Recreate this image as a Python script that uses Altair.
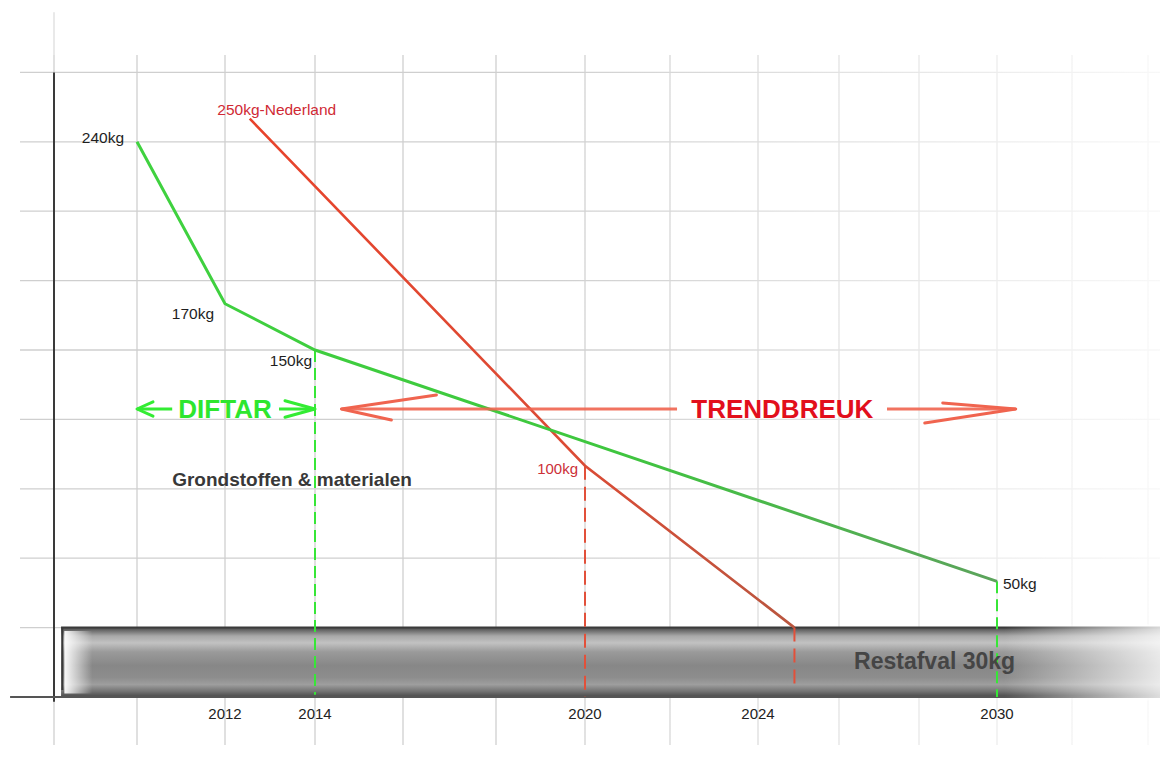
import altair as alt
import pandas as pd

# ---------------- data ----------------
green_years = [2010, 2012, 2014, 2030]
green_kg = [240, 170, 150, 50]

red_years = [2012.55, 2020, 2024.9]
red_kg = [250, 100, 30]
red_name = "Nederland"

restafval_kg = 30
restafval_label = "Restafval 30kg"

axis_years = [2012, 2014, 2020, 2024, 2030]
grid_years = [2008, 2010, 2012, 2014, 2016, 2018, 2020, 2022, 2024, 2026, 2028, 2030, 2032, 2034]
grid_kg = [30, 60, 90, 120, 150, 180, 210, 240, 270]

diftar_label = "DIFTAR"
diftar_years = [2010, 2014]
trend_label = "TRENDBREUK"
trend_years = [2014.6, 2030.5]
arrow_kg = 124.5
material_label = "Grondstoffen & materialen"

# ---------------- scales (the hand-drawn time axis is slightly uneven) ----------------
X_DOM = [2006.89] + grid_years + [2034.32]
X_RANGE = [0, 46, 129, 217, 307, 395, 488, 577, 662, 750, 831, 911, 989, 1064, 1140, 1152]
Y_DOM = [-25.07, 297.84]
W, H = 1152, 747
FONT = "Liberation Sans"

xs = alt.Scale(domain=X_DOM, range=X_RANGE, nice=False, zero=False)
ys = alt.Scale(domain=Y_DOM, nice=False, zero=False)
X_END = X_DOM[-1]


def ex(f="year"):
    return alt.X(f"{f}:Q", scale=xs, axis=None)


def ey(f="kg"):
    return alt.Y(f"{f}:Q", scale=ys, axis=None)


def seg(rows, **mark):
    df = pd.DataFrame(rows, columns=["year", "year2", "kg", "kg2"])
    return alt.Chart(df).mark_rule(**mark).encode(
        x=ex(), x2=alt.X2("year2:Q"), y=ey(), y2=alt.Y2("kg2:Q"))


def box(rows, **mark):
    df = pd.DataFrame(rows, columns=["year", "year2", "kg", "kg2"])
    return alt.Chart(df).mark_rect(**mark).encode(
        x=ex(), x2=alt.X2("year2:Q"), y=ey(), y2=alt.Y2("kg2:Q"))


def txt(label, year, kg, **mark):
    df = pd.DataFrame({"year": [year], "kg": [kg], "label": [label]})
    mark.setdefault("font", FONT)
    mark.setdefault("baseline", "middle")
    return alt.Chart(df).mark_text(**mark).encode(x=ex(), y=ey(), text="label:N")


def head(year, kg, path, size, color, width=3):
    df = pd.DataFrame({"year": [year], "kg": [kg]})
    return alt.Chart(df).mark_point(
        shape=path, size=size, filled=False, stroke=color, strokeWidth=width,
        opacity=1, strokeCap="round", strokeJoin="round").encode(x=ex(), y=ey())


def grad(stops, horizontal=False):
    return alt.LinearGradient(
        gradient="linear",
        stops=[alt.GradientStop(offset=o, color=c) for o, c in stops],
        x1=0, y1=0, x2=1 if horizontal else 0, y2=0 if horizontal else 1)


layers = []

# grid
GRID = "#cfcfcf"
layers.append(seg([(y, y, -20.7, 277.5) for y in grid_years], color=GRID, strokeWidth=1.3))
layers.append(seg([(2007.18, X_END, k, k) for k in grid_kg], color=GRID, strokeWidth=1.3))
layers.append(seg([(grid_years[0], grid_years[0], 277.5, 296)], color="#dddddd", strokeWidth=1.3))
# fade of grid toward the right
layers.append(box([(2019, X_END, Y_DOM[0], Y_DOM[1])],
                  fill=grad([(0, "rgba(255,255,255,0)"), (1, "rgba(255,255,255,0.85)")], True)))

# vertical axis
layers.append(seg([(grid_years[0], grid_years[0], -2, 270)], color="#3a3a3a", strokeWidth=2))

# restafval band
band_x0 = 2008.17
layers.append(box([(band_x0, X_END, 0, restafval_kg)],
                  fill=grad([(0.0, "#4a4a4a"), (0.04, "#6a6a6a"), (0.12, "#a8a8a8"),
                             (0.22, "#c2c2c2"), (0.35, "#9a9a9a"), (0.55, "#878787"),
                             (0.72, "#8d8d8d"), (0.82, "#9e9e9e"), (0.92, "#727272"),
                             (1.0, "#4a4a4a")])))
layers.append(seg([(band_x0, X_END, restafval_kg, restafval_kg)], color="#3a3a3a", strokeWidth=2))
layers.append(seg([(2006.94, X_END, 0, 0)], color="#555555", strokeWidth=2))
layers.append(seg([(band_x0 + 0.03, band_x0 + 0.03, 3, restafval_kg)], color="#3a3a3a", strokeWidth=2))
# soft edges of the band
layers.append(box([(band_x0 + 0.08, band_x0 + 0.75, 1.5, restafval_kg - 1.5)],
                  fill=grad([(0, "rgba(255,255,255,0.95)"), (1, "rgba(255,255,255,0)")], True)))
layers.append(box([(2030.2, X_END, -1.5, restafval_kg + 1.5)],
                  fill=grad([(0, "rgba(255,255,255,0)"), (1, "rgba(255,255,255,0.8)")], True)))

# dashed drop lines
GREEN_D = "#37e637"
RED_D = "#e2503a"
layers.append(seg([(green_years[2], green_years[2], green_kg[2], 1)], color=GREEN_D,
                  strokeWidth=2, strokeDash=[12, 6]))
layers.append(seg([(green_years[3], green_years[3], green_kg[3], 0)], color=GREEN_D,
                  strokeWidth=2, strokeDash=[12, 6]))
layers.append(seg([(red_years[1], red_years[1], red_kg[1], 0)], color=RED_D,
                  strokeWidth=2, strokeDash=[14, 7]))
layers.append(seg([(red_years[2], red_years[2], red_kg[2], 3)], color=RED_D,
                  strokeWidth=2, strokeDash=[14, 7]))

# trend lines
gdf = pd.DataFrame({"year": green_years, "kg": green_kg})
rdf = pd.DataFrame({"year": red_years, "kg": red_kg})
layers.append(alt.Chart(rdf).mark_line(
    stroke=grad([(0, "#e8432b"), (0.6, "#db4b35"), (1, "#b9563f")], True),
    strokeWidth=2.6).encode(x=ex(), y=ey(), order="year:Q"))
layers.append(alt.Chart(gdf).mark_line(
    stroke=grad([(0, "#3fd23f"), (0.55, "#3ec63e"), (1, "#5ca35c")], True),
    strokeWidth=3).encode(x=ex(), y=ey(), order="year:Q"))

# DIFTAR arrows
GREEN_A = "#33ec33"
layers.append(seg([(diftar_years[0], diftar_years[0] + 0.8, arrow_kg, arrow_kg)],
                  color=GREEN_A, strokeWidth=3))
layers.append(seg([(diftar_years[1] - 0.8, diftar_years[1], arrow_kg, arrow_kg)],
                  color=GREEN_A, strokeWidth=3))
layers.append(head(diftar_years[0], arrow_kg, "M2,-0.9 L0,0 L2,0.9", 256, GREEN_A))
layers.append(head(diftar_years[1], arrow_kg, "M-2,-0.55 L0,0 L-2,0.55", 900, GREEN_A))
layers.append(txt(diftar_label, sum(diftar_years) / 2, arrow_kg, fontSize=26,
                  fontWeight="bold", color="#2ee62e", dy=1))

# TRENDBREUK arrows
RED_A = "#f0644f"
layers.append(seg([(trend_years[0], 2022.16, arrow_kg, arrow_kg)], color=RED_A,
                  strokeWidth=3, opacity=0.9))
layers.append(seg([(2027.2, trend_years[1], arrow_kg, arrow_kg)], color=RED_A,
                  strokeWidth=3, opacity=0.9))
layers.append(head(trend_years[0], arrow_kg, "M9.5,-1.4 L0,0 L5,1.1", 400, RED_A))
layers.append(head(trend_years[1], arrow_kg, "M-7.3,-0.6 L0,0 L-9.1,1.4", 400, RED_A))
layers.append(txt(trend_label, 2024.6, arrow_kg, fontSize=26, fontWeight="bold",
                  color="#e20f1c", dy=1))

# other annotations
layers.append(txt(material_label, 2010.8, 94, fontSize=19, fontWeight="bold",
                  color="#383838", align="left"))
layers.append(txt(restafval_label, 2028.4, restafval_kg / 2, fontSize=23,
                  fontWeight="bold", color="#454545"))

# value labels
BLACK = "#1e1e1e"
layers.append(txt(f"{green_kg[0]}kg", green_years[0], green_kg[0], fontSize=15.5,
                  color=BLACK, align="right", dx=-13, dy=-4))
layers.append(txt(f"{green_kg[1]}kg", green_years[1], green_kg[1], fontSize=15.5,
                  color=BLACK, align="right", dx=-11, dy=10))
layers.append(txt(f"{green_kg[2]}kg", green_years[2], green_kg[2], fontSize=15.5,
                  color=BLACK, align="right", dx=-3, dy=11))
layers.append(txt(f"{green_kg[3]}kg", green_years[3], green_kg[3], fontSize=15.5,
                  color=BLACK, align="left", dx=6, dy=3))
layers.append(txt(f"{red_kg[0]}kg-{red_name}", red_years[0], red_kg[0], fontSize=15.5,
                  color="#d02a35", align="center", dx=27, dy=-9))
layers.append(txt(f"{red_kg[1]}kg", red_years[1], red_kg[1], fontSize=15,
                  color="#cc3038", align="right", dx=-7, dy=3))

# year labels
ydf = pd.DataFrame({"year": axis_years, "kg": [-7.5] * len(axis_years),
                    "label": [str(y) for y in axis_years]})
layers.append(alt.Chart(ydf).mark_text(font=FONT, fontSize=15, color="#222222",
                                       baseline="middle").encode(
    x=ex(), y=ey(), text="label:N"))

chart = alt.layer(*layers).properties(
    width=W, height=H, padding=0,
    autosize=alt.AutoSizeParams(type="none"),
    background="white",
).configure_view(stroke=None)

chart.save("out.html", embed_options={"renderer": "svg", "actions": False})
